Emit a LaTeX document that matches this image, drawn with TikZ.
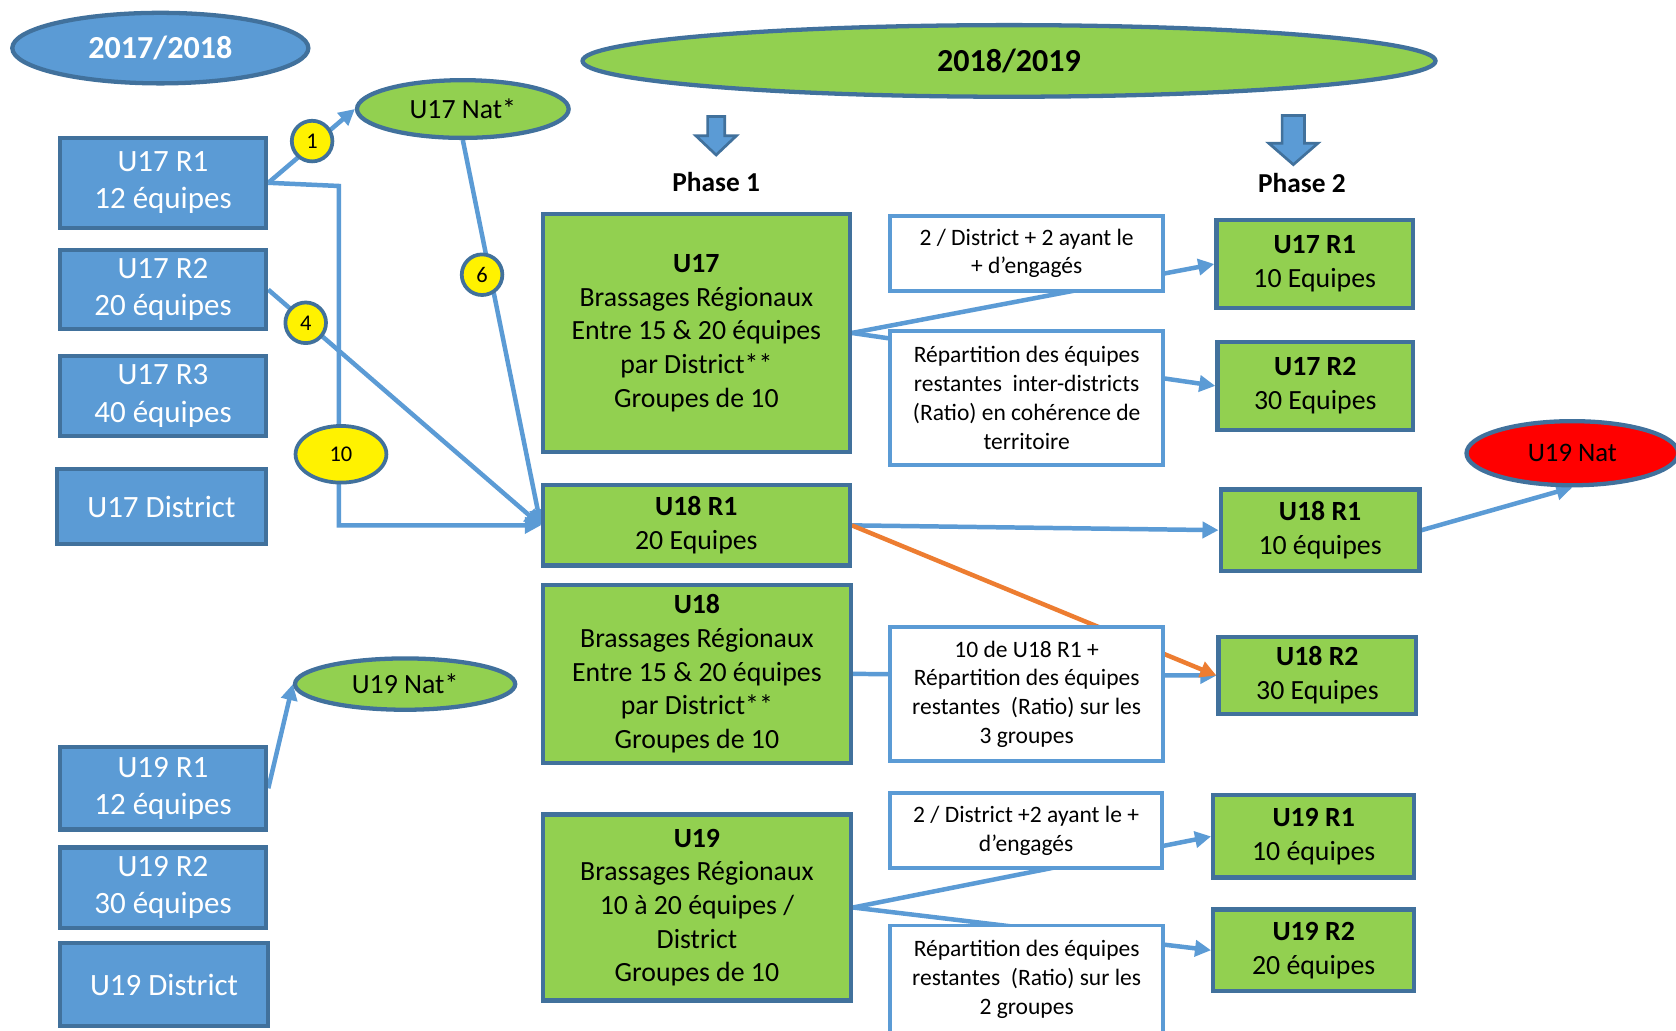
\documentclass[tikz,border=0pt]{standalone}
\usepackage{fontspec}
\setmainfont{Carlito}
\usetikzlibrary{arrows.meta,shapes.geometric}
\definecolor{fillblue}{HTML}{5B9BD5}
\definecolor{darkblue}{HTML}{41719C}
\definecolor{lgreen}{HTML}{92D050}
\definecolor{orangec}{HTML}{ED7D31}
\pgfdeclarelayer{bg}
\pgfsetlayers{bg,main}
\tikzset{
 bluebox/.style={rectangle, fill=fillblue, draw=darkblue, line width=4pt, text=white, align=center, inner sep=0pt, font=\fontsize{29}{35}\selectfont},
 greenbox/.style={rectangle, fill=lgreen, draw=darkblue, line width=4pt, align=center, inner sep=0pt, font=\fontsize{26}{31.5}\selectfont},
 ptwobox/.style={greenbox, font=\fontsize{26}{32}\selectfont},
 whitebox/.style={rectangle, fill=white, draw=fillblue, line width=3.5pt, align=center, inner sep=0pt, font=\fontsize{22}{27}\selectfont},
 ell/.style={ellipse, draw=darkblue, line width=4pt, inner sep=0pt},
 numc/.style={ellipse, fill=yellow, draw=darkblue, line width=3.5pt, inner sep=0pt, font=\fontsize{21}{25}\selectfont},
 conn/.style={draw=fillblue, line width=4.2pt, -{Triangle[length=15pt,width=15pt]}},
 oconn/.style={conn, draw=orangec},
 downarrow/.style={fill=fillblue, draw=darkblue, line width=2.5pt, line join=miter},
 phase/.style={font=\bfseries\fontsize{25.6}{30}\selectfont},
}
\begin{document}
\begin{tikzpicture}[x=1pt,y=-1pt]
\useasboundingbox (0,0) rectangle (1568,964);

% titles
\node[ell, fill=fillblue, text=white, minimum width=277, minimum height=66, font=\bfseries\fontsize{30}{36}\selectfont] (y1718) at (150,45) {2017/2018};
\node[ell, fill=lgreen, minimum width=798, minimum height=67, font=\bfseries\fontsize{30}{36}\selectfont] (y1819) at (944,57) {2018/2019};

% left blue boxes
\node[bluebox, minimum width=193, minimum height=84] (b17r1) at (152.5,171) {U17 R1\\12 équipes};
\node[bluebox, minimum width=193, minimum height=74] (b17r2) at (152.5,271) {U17 R2\\20 équipes};
\node[bluebox, minimum width=193, minimum height=75] (b17r3) at (152.5,370.5) {U17 R3\\40 équipes};
\node[bluebox, minimum width=196, minimum height=70] (b17d) at (151,474) {U17 District};
\node[bluebox, minimum width=193, minimum height=77] (b19r1) at (152.5,737.5) {U19 R1\\12 équipes};
\node[bluebox, minimum width=193, minimum height=75] (b19r2) at (152.5,830.5) {U19 R2\\30 équipes};
\node[bluebox, minimum width=195, minimum height=78] (b19d) at (153.5,921) {U19 District};

% nat ellipses
\node[ell, fill=lgreen, minimum width=198, minimum height=54, font=\fontsize{26}{31}\selectfont] (u17nat) at (433,102) {U17 Nat*};
\node[ell, fill=lgreen, minimum width=206, minimum height=48, font=\fontsize{26}{31}\selectfont] (u19nat) at (379,640) {U19 Nat*};
\node[ell, fill=red, minimum width=198, minimum height=60, font=\fontsize{25}{30}\selectfont] (u19red) at (1471,424) {U19 Nat};

% number markers
\node[numc, minimum width=38, minimum height=38] (c1) at (292,132) {1};
\node[numc, minimum width=38, minimum height=38] (c4) at (286,302) {4};
\node[numc, minimum width=38, minimum height=38] (c6) at (451,257) {6};
\node[numc, minimum width=85, minimum height=53] (c10) at (319,425) {10};

% phase arrows and labels
\draw[downarrow] (662,109) -- (678,109) -- (678,127) -- (689,127) -- (670,145) -- (651,127) -- (662,127) -- cycle;
\draw[downarrow] (1199.5,108) -- (1220.5,108) -- (1220.5,134) -- (1233,134) -- (1210,154) -- (1187,134) -- (1199.5,134) -- cycle;
\node[phase] (ph1) at (670,170) {Phase 1};
\node[phase] (ph2) at (1218,171) {Phase 2};

% phase 1 green boxes
\node[greenbox, minimum width=287, minimum height=223] (g17) at (651.5,311.5) {\textbf{U17}\\Brassages Régionaux\\Entre 15 \& 20 équipes\\par District**\\Groupes de 10};
\node[greenbox, minimum width=287, minimum height=75] (g18r1) at (651.5,491.5) {\textbf{U18 R1}\\20 Equipes};
\node[greenbox, minimum width=288, minimum height=167] (g18) at (652,630.5) {\textbf{U18}\\Brassages Régionaux\\Entre 15 \& 20 équipes\\par District**\\Groupes de 10};
\node[greenbox, minimum width=288, minimum height=174] (g19) at (652,849) {\textbf{U19}\\Brassages Régionaux\\10 à 20 équipes /\\District\\Groupes de 10};

% white boxes
\node[whitebox, minimum width=255.5, minimum height=70.5] (w1) at (960.5,237) {2 / District + 2 ayant le\\+ d’engagés};
\node[whitebox, minimum width=255.5, minimum height=125.5] (w2) at (960.5,372.5) {Répartition des équipes\\restantes\ \ inter-districts\\(Ratio) en cohérence de\\territoire};
\node[whitebox, minimum width=255.5, minimum height=125.5] (w3) at (960.5,649.5) {10 de U18 R1 +\\Répartition des équipes\\restantes\ \ (Ratio) sur les\\3 groupes};
\node[whitebox, minimum width=254.5, minimum height=70.5] (w4) at (960,777) {2 / District +2 ayant le +\\d’engagés};
\node[whitebox, minimum width=255.5, minimum height=100.5] (w5) at (960.5,916) {Répartition des équipes\\restantes\ \ (Ratio) sur les\\2 groupes};

% phase 2 boxes
\node[ptwobox, minimum width=184, minimum height=82] (p17r1) at (1230,247) {\textbf{U17 R1}\\10 Equipes};
\node[ptwobox, minimum width=183, minimum height=82] (p17r2) at (1230.5,361) {\textbf{U17 R2}\\30 Equipes};
\node[ptwobox, minimum width=186, minimum height=76] (p18r1) at (1235,496) {\textbf{U18 R1}\\10 équipes};
\node[ptwobox, minimum width=185, minimum height=72] (p18r2) at (1232.5,632) {\textbf{U18 R2}\\30 Equipes};
\node[ptwobox, minimum width=188, minimum height=77] (p19r1) at (1229,782.5) {\textbf{U19 R1}\\10 équipes};
\node[ptwobox, minimum width=188, minimum height=76] (p19r2) at (1229,889) {\textbf{U19 R2}\\20 équipes};

% connectors (behind the boxes)
\begin{pgfonlayer}{bg}
\fill[white] (0,0) rectangle (1568,964);
\draw[conn] (b17r1.east) -- (u17nat.west);
\draw[conn] (b17r1.east) -- ([xshift=66pt,yshift=-3pt]b17r1.east) |- (g18r1.west);
\draw[conn] (b17r2.east) -- (g18r1.west);
\draw[conn] (u17nat.south) -- (g18r1.west);
\draw[conn] (b19r1.east) -- (u19nat.west);
\draw[conn] (g17.east) -- (p17r1.west);
\draw[conn] (g17.east) -- (p17r2.west);
\draw[conn] (g18r1.east) -- (p18r1.west);
\draw[conn] (g18.east) -- (p18r2.west);
\draw[oconn] (g18r1.east) -- (p18r2.west);
\draw[conn] (p18r1.east) -- (u19red.south);
\draw[conn] (g19.east) -- (p19r1.west);
\draw[conn] (g19.east) -- (p19r2.west);
\end{pgfonlayer}
\end{tikzpicture}
\end{document}
